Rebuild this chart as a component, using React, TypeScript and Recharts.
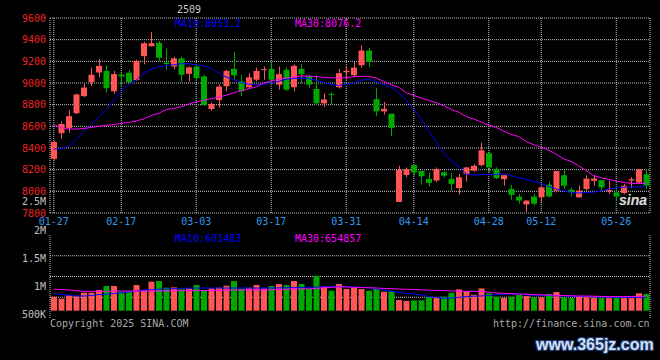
import React from 'react';
import { ComposedChart, Bar, Line, XAxis, YAxis, CartesianGrid, ReferenceArea, Cell } from 'recharts';

// trading days shown on the chart
const dates = [
  '01-27', '02-05', '02-06', '02-07', '02-10', '02-11', '02-12', '02-13', '02-14', '02-17',
  '02-18', '02-19', '02-20', '02-21', '02-24', '02-25', '02-26', '02-27', '02-28', '03-03',
  '03-04', '03-05', '03-06', '03-07', '03-10', '03-11', '03-12', '03-13', '03-14', '03-17',
  '03-18', '03-19', '03-20', '03-21', '03-24', '03-25', '03-26', '03-27', '03-28', '03-31',
  '04-01', '04-02', '04-03', '04-07', '04-08', '04-09', '04-10', '04-11', '04-14', '04-15',
  '04-16', '04-17', '04-18', '04-21', '04-22', '04-23', '04-24', '04-25', '04-28', '04-29',
  '04-30', '05-06', '05-07', '05-08', '05-09', '05-12', '05-13', '05-14', '05-15', '05-16',
  '05-19', '05-20', '05-21', '05-22', '05-23', '05-26', '05-27', '05-28', '05-29', '05-30',
];

const opens = [
  8300, 8536, 8585, 8721, 8879, 9009, 9097, 9112, 8924, 9078,
  9094, 9027, 9248, 9339, 9370, 9188, 9152, 9227, 9085, 9152,
  9061, 8760, 8842, 8970, 9130, 9015, 8961, 9030, 9120, 9130,
  8985, 9121, 8961, 9130, 9061, 8945, 8812, 8900, 8961, 9100,
  9072, 9164, 9300, 8850, 8738, 8717, 7902, 8151, 8242, 8188,
  8115, 8100, 8176, 8115, 8030, 8160, 8191, 8242, 8352, 8206,
  8112, 8021, 7952, 7879, 7952, 7945, 8061, 8006, 8149, 8015,
  7945, 8021, 8097, 8103, 8000, 7991, 7985, 8100, 8082, 8158,
];

const closes = [
  8455, 8621, 8694, 8894, 8958, 9076, 9158, 8952, 9082, 9060,
  9009, 9203, 9367, 9367, 9233, 9176, 9227, 9076, 9145, 9045,
  8797, 8806, 8967, 9112, 9070, 8924, 9052, 9112, 9128, 9030,
  9082, 8939, 9158, 9082, 8985, 8812, 8848, 8891, 9091, 9112,
  9142, 9300, 9194, 8738, 8762, 8586, 8197, 8206, 8176, 8139,
  8078, 8206, 8145, 8069, 8130, 8221, 8236, 8379, 8221, 8121,
  8149, 7967, 7915, 7915, 7885, 8036, 7952, 8188, 8052, 7991,
  8006, 8118, 8118, 8036, 8012, 7952, 8052, 8112, 8203, 8052,
];

const highs = [
  8465, 8646, 8749, 8903, 8994, 9142, 9221, 9164, 9112, 9106,
  9121, 9215, 9379, 9470, 9388, 9318, 9242, 9242, 9152, 9173,
  9076, 8820, 8985, 9121, 9288, 9076, 9091, 9142, 9152, 9197,
  9152, 9142, 9173, 9173, 9076, 9076, 8903, 8912, 9130, 9158,
  9194, 9346, 9325, 8951, 8826, 8717, 8236, 8221, 8242, 8188,
  8176, 8221, 8191, 8170, 8160, 8225, 8252, 8449, 8367, 8221,
  8149, 8058, 7976, 7915, 7976, 8052, 8088, 8188, 8203, 8036,
  8052, 8149, 8149, 8103, 8097, 8021, 8067, 8130, 8203, 8203,
];

const lows = [
  8285, 8485, 8542, 8712, 8870, 8970, 9052, 8915, 8900, 8970,
  8997, 9021, 9173, 9339, 9203, 9121, 9127, 9015, 9015, 9015,
  8788, 8745, 8773, 8924, 9030, 8879, 8949, 9015, 9030, 8985,
  8939, 8924, 8924, 9000, 8955, 8794, 8779, 8803, 8948, 9030,
  9063, 9142, 9148, 8692, 8708, 8510, 7902, 8130, 8145, 8060,
  8045, 8085, 8130, 8008, 7972, 8090, 8182, 8230, 8176, 8115,
  8052, 7921, 7885, 7809, 7870, 7900, 7945, 7991, 8021, 7952,
  7940, 8006, 8052, 8000, 7976, 7915, 7976, 8030, 8067, 8021,
];

const ma10 = [
  8391, 8392, 8420, 8480, 8550, 8618, 8686, 8748, 8840, 8925,
  8985, 9028, 9090, 9130, 9150, 9160, 9168, 9178, 9178, 9168,
  9158, 9135, 9090, 9055, 9030, 9005, 8988, 8985, 8988, 9000,
  9015, 9035, 9042, 9045, 9040, 9025, 9005, 8985, 8978, 8988,
  9000, 9025, 9034, 9012, 8985, 8960, 8910, 8843, 8755, 8670,
  8560, 8460, 8350, 8275, 8225, 8160, 8150, 8155, 8155, 8157,
  8162, 8145, 8125, 8110, 8092, 8070, 8045, 8022, 8005, 7990,
  7985, 7988, 7992, 8003, 8020, 8030, 8038, 8040, 8040, 8053,
];

const ma30 = [
  8615, 8588, 8575, 8575, 8580, 8590, 8600, 8610, 8615, 8628,
  8636, 8650, 8668, 8700, 8720, 8755, 8765, 8781, 8805, 8825,
  8840, 8855, 8870, 8888, 8910, 8928, 8948, 8965, 9000, 9018,
  9035, 9045, 9055, 9065, 9065, 9058, 9053, 9048, 9045, 9050,
  9058, 9062, 9062, 9045, 9015, 8985, 8960, 8910, 8885, 8860,
  8840, 8818, 8790, 8755, 8730, 8690, 8668, 8640, 8610, 8590,
  8555, 8525, 8505, 8460, 8430, 8406, 8380, 8342, 8300, 8275,
  8235, 8190, 8145, 8125, 8110, 8095, 8082, 8074, 8072, 8076,
];

const volumes = [
  628000, 538000, 688000, 658000, 807000, 807000, 927000, 1106000, 1106000, 852000,
  852000, 1151000, 927000, 1300000, 1330000, 1031000, 1046000, 957000, 1001000, 1151000,
  927000, 1001000, 1031000, 1121000, 1330000, 987000, 1031000, 1151000, 1001000, 1106000,
  1196000, 1151000, 1330000, 1196000, 987000, 1570000, 1076000, 897000, 1196000, 972000,
  1031000, 972000, 897000, 972000, 852000, 882000, 478000, 433000, 463000, 463000,
  598000, 598000, 628000, 807000, 957000, 867000, 717000, 1001000, 777000, 628000,
  568000, 628000, 703000, 658000, 598000, 598000, 747000, 837000, 598000, 568000,
  628000, 628000, 598000, 568000, 568000, 568000, 568000, 568000, 777000, 747000,
];

const volMa10 = [
  780000, 720000, 700000, 660000, 660000, 680000, 720000, 740000, 770000, 800000,
  840000, 890000, 920000, 940000, 960000, 980000, 990000, 1000000, 1010000, 1015000,
  1016000, 1016000, 1016000, 1016000, 1016000, 1016000, 1016000, 1016000, 1016000, 1020000,
  1025000, 1030000, 1035000, 1046000, 1050000, 1060000, 1070000, 1076000, 1076000, 1070000,
  1060000, 1050000, 1030000, 980000, 930000, 870000, 830000, 780000, 750000, 700000,
  640000, 600000, 560000, 570000, 600000, 630000, 650000, 660000, 680000, 720000,
  740000, 750000, 740000, 710000, 700000, 690000, 680000, 670000, 660000, 650000,
  640000, 630000, 620000, 610000, 605000, 600000, 600000, 600000, 600000, 601483,
];

const volMa30 = [
  960000, 950000, 930000, 900000, 870000, 870000, 870000, 870000, 880000, 880000,
  880000, 880000, 880000, 880000, 890000, 890000, 890000, 900000, 900000, 900000,
  900000, 900000, 910000, 920000, 930000, 930000, 930000, 930000, 930000, 940000,
  950000, 960000, 970000, 970000, 980000, 1000000, 1030000, 1050000, 1070000, 1070000,
  1050000, 1040000, 1030000, 1020000, 1000000, 990000, 970000, 960000, 950000, 940000,
  920000, 910000, 900000, 890000, 880000, 870000, 870000, 860000, 830000, 800000,
  780000, 770000, 750000, 740000, 720000, 710000, 700000, 690000, 680000, 670000,
  660000, 660000, 650000, 640000, 630000, 630000, 630000, 640000, 645000, 654857,
];

const tickDates = ['01-27', '02-17', '03-03', '03-17', '03-31', '04-14', '04-28', '05-12', '05-26'];
const priceTicks = [7800, 8000, 8200, 8400, 8600, 8800, 9000, 9200, 9400, 9600];
const volLabelTicks = [500000, 1000000, 1500000, 2000000, 2500000];

const RED = '#ff5555';
const GREEN = '#00a800';
const FONT = '"DejaVu Sans Mono", monospace';

const rows = dates.map((date, i) => ({
  date,
  open: opens[i],
  close: closes[i],
  high: highs[i],
  low: lows[i],
  range: [lows[i], highs[i]],
  ma10: ma10[i],
  ma30: ma30[i],
  vol: volumes[i],
  volMa10: volMa10[i],
  volMa30: volMa30[i],
}));

// candle drawn inside the [low, high] bar rect
const Candle = (props: any) => {
  const { x, y, width, height, payload } = props;
  const { open, close, high, low } = payload;
  const color = close >= open ? RED : GREEN;
  const yTop = Math.min(y, y + height);
  const yBot = Math.max(y, y + height);
  const span = high - low || 1;
  const py = (p: number) => yTop + ((high - p) / span) * (yBot - yTop);
  const cx = Math.floor(x + width / 2) + 0.5;
  const bTop = py(Math.max(open, close));
  const bBot = py(Math.min(open, close));
  return (
    <g>
      <line x1={cx} x2={cx} y1={yTop} y2={yBot} stroke={color} strokeWidth={1} />
      <rect x={x} y={bTop} width={width} height={Math.max(1, bBot - bTop)} fill={color} />
    </g>
  );
};

const fmtVol = (v: number) => (v >= 1000000 ? `${v / 1000000}M` : `${v / 1000}K`);

const Txt = ({ left, top, color, size = 10, children, style }: any) => (
  <div
    style={{
      position: 'absolute',
      left,
      top,
      color,
      fontSize: size,
      lineHeight: `${size}px`,
      whiteSpace: 'nowrap',
      ...style,
    }}
  >
    {children}
  </div>
);

export default function App() {
  return (
    <div
      style={{
        position: 'absolute',
        left: 0,
        top: 0,
        width: 660,
        height: 360,
        background: '#000',
        overflow: 'hidden',
        fontFamily: FONT,
      }}
    >
      <div style={{ position: 'absolute', left: 0, top: 0 }}>
        <ComposedChart width={660} height={230} data={rows} margin={{ top: 18, right: 10, bottom: 0, left: 0 }}>
          <CartesianGrid yAxisId="price" stroke="#c4c4c4" strokeDasharray="1 1" />
          <XAxis
            dataKey="date"
            ticks={tickDates}
            interval={0}
            height={17}
            tickSize={0}
            tickMargin={5}
            axisLine={false}
            tickLine={false}
            tick={{ fill: '#3399ee', fontSize: 10 }}
          />
          <YAxis
            yAxisId="price"
            domain={[7800, 9600]}
            ticks={priceTicks}
            interval={0}
            allowDataOverflow
            width={50}
            tickSize={0}
            tickMargin={4}
            axisLine={false}
            tickLine={false}
            tick={{ fill: '#ee2222', fontSize: 10 }}
          />
          <Bar yAxisId="price" dataKey="range" barSize={6} shape={<Candle />} isAnimationActive={false} />
          <Line yAxisId="price" dataKey="ma10" stroke="#0000ff" strokeWidth={1} dot={false} type="linear" isAnimationActive={false} />
          <Line yAxisId="price" dataKey="ma30" stroke="#ff00ff" strokeWidth={1} dot={false} type="linear" isAnimationActive={false} />
          <ReferenceArea yAxisId="price" fill="none" stroke="#b4b4b4" strokeWidth={1} />
        </ComposedChart>
      </div>

      <div style={{ position: 'absolute', left: 0, top: 190 }}>
        <ComposedChart width={660} height={140} data={rows} margin={{ top: 45, right: 10, bottom: 11, left: 0 }}>
          <CartesianGrid
            yAxisId="vol"
            stroke="#c4c4c4"
            strokeDasharray="1 1"
            horizontalCoordinatesGenerator={({ offset }: any) => [1, 2, 3].map((k) => offset.top + (offset.height * k) / 4)}
          />
          <XAxis dataKey="date" ticks={tickDates} interval={0} height={1} tick={false} tickLine={false} axisLine={false} />
          <YAxis
            yAxisId="lbl"
            domain={[441500, 1913000]}
            ticks={volLabelTicks}
            interval={0}
            allowDataOverflow
            width={50}
            tickSize={0}
            tickMargin={4}
            axisLine={false}
            tickLine={false}
            tickFormatter={fmtVol}
            tick={{ fill: '#c0c0c0', fontSize: 10 }}
          />
          <YAxis yAxisId="vol" hide domain={[-327000, 3395000]} allowDataOverflow />
          <Bar yAxisId="vol" dataKey="vol" barSize={6} isAnimationActive={false}>
            {rows.map((r) => (
              <Cell key={r.date} fill={r.close >= r.open ? RED : GREEN} />
            ))}
          </Bar>
          <Line yAxisId="vol" dataKey="volMa10" stroke="#0000ff" strokeWidth={1} dot={false} type="linear" isAnimationActive={false} />
          <Line yAxisId="vol" dataKey="volMa30" stroke="#ff00ff" strokeWidth={1} dot={false} type="linear" isAnimationActive={false} />
          <ReferenceArea yAxisId="vol" fill="none" stroke="#b4b4b4" strokeWidth={1} />
        </ComposedChart>
      </div>

      <Txt left={177} top={5} color="#c8c8c8">2509</Txt>
      <Txt left={175} top={19} color="#0000ff">MA10:8053.2</Txt>
      <Txt left={295} top={19} color="#ff00ff">MA30:8076.2</Txt>
      <Txt left={175} top={234} color="#0000ff">MA10:601483</Txt>
      <Txt left={295} top={234} color="#ff00ff">MA30:654857</Txt>
      <Txt left={50} top={319} color="#a8a8a8">Copyright 2025 SINA.COM</Txt>
      <Txt left={493} top={319} color="#a8a8a8">http://finance.sina.com.cn</Txt>
      <Txt
        left={619}
        top={193}
        color="#d8d8d8"
        size={14}
        style={{ fontFamily: '"Liberation Sans", sans-serif', fontStyle: 'italic', fontWeight: 700, textShadow: '0 0 1px #555' }}
      >
        sina
      </Txt>
      <Txt
        left={536}
        top={336}
        color="#d4e0ee"
        size={16}
        style={{
          fontFamily: '"Liberation Sans", sans-serif',
          fontWeight: 700,
          lineHeight: '18px',
          textShadow: '1px 1px 0 #1a3a7a, -1px -1px 0 #1a3a7a, 1px -1px 0 #1a3a7a, -1px 1px 0 #1a3a7a',
        }}
      >
        www.365jz.com
      </Txt>
    </div>
  );
}
